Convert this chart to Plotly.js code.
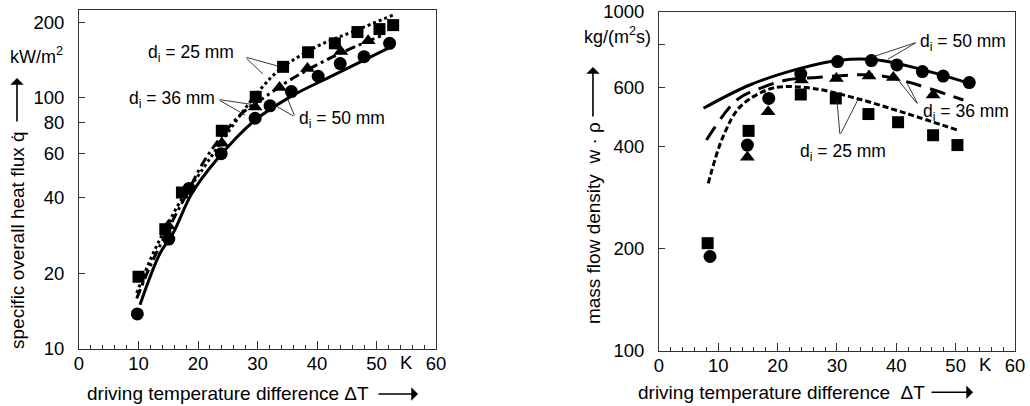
<!DOCTYPE html>
<html>
<head>
<meta charset="utf-8">
<script src="https://cdn.plot.ly/plotly-3.0.1.min.js"></script>
<style>html,body{margin:0;padding:0;background:#fff;}#chart{width:1030px;height:406px;}</style>
</head>
<body>
<div id="chart"></div>
<script>
// ---- Left panel: specific overall heat flux (kW/m2) vs driving temperature difference (K)
const qX25 = [10, 14.5, 17.3, 24, 29.7, 34.3, 38.5, 43, 46.8, 50.5, 52.8];
const qY25 = [19.4, 30, 42, 74, 101, 133, 152, 165, 183, 188, 195];
const qX36 = [15, 24, 29.6, 33.7, 38.4, 44, 48.6];
const qY36 = [31, 66, 92, 110, 131, 153, 169];
const qX50 = [9.8, 15.1, 18.5, 23.9, 29.6, 32.1, 35.7, 40.2, 43.9, 47.9, 52.2];
const qY50 = [13.8, 27.4, 43.6, 60, 83, 93, 106, 122, 137, 146, 165];

const qFitX25 = [9.7, 12.2, 14.7, 17.5, 20.3, 25.9, 30.4, 33.8, 39.9, 46.1, 52.8];
const qFitY25 = [16.7, 23.3, 30.7, 40.4, 50.1, 78, 107.7, 130, 160, 184, 214];
const qFitX36 = [9.7, 12, 15, 18, 21.5, 27.1, 31, 35.5, 42.7, 51.1];
const qFitY36 = [15.9, 21.5, 30, 41, 58.4, 85.6, 100, 118, 146, 178];
const qFitX50 = [10.25, 13.6, 15.8, 19, 23.1, 29.3, 35.5, 42.7, 52];
const qFitY50 = [15, 24, 28.9, 41.8, 56.6, 80.5, 101, 123, 158];

// ---- Right panel: mass flow density kg/(m2 s) vs driving temperature difference (K)
const mX25 = [8.2, 15.1, 23.9, 29.8, 35.3, 40.3, 46.2, 50.3];
const mY25 = [208, 446, 571, 556, 500, 473, 433, 405];
const mX36 = [14.9, 18.4, 24, 29.9, 35.4, 39.5, 46.2];
const mY36 = [373, 508, 630, 637, 647, 641, 569];
const mX50 = [8.6, 14.9, 18.5, 23.9, 30.1, 35.8, 40.1, 44.4, 47.9, 52.3];
const mY50 = [190, 405, 556, 656, 714, 719, 698, 667, 647, 619];

const mFitX25 = [8.3, 10.8, 13.7, 18.2, 20.9, 26, 33.3, 41.7, 50.2];
const mFitY25 = [312, 429, 526, 589, 602, 595, 556, 502, 449];
const mFitX36 = [8, 13.1, 17, 21.5, 26.6, 36.1, 41.7, 51.3];
const mFitY36 = [419, 550, 595, 630, 641, 652, 623, 550];
const mFitX50 = [7.5, 15.3, 23.8, 30.5, 37.2, 44.5, 51.9];
const mFitY50 = [520, 609, 682, 721, 721, 675, 619];

// tick labels
const qTicks = [10, 20, 40, 60, 80, 100, 200];
const mTicks = [100, 200, 400, 600, 800, 1000];
const mTickText = ['100', '200', '400', '600', '', '1000'];

const FONT = 'Liberation Sans, Arial, Helvetica, sans-serif';
const BLACK = '#000';

function markers(x, y, sym, xa, ya) {
  return {x, y, xaxis: xa, yaxis: ya, mode: 'markers', type: 'scatter',
    marker: {symbol: sym, size: sym === 'square' ? 12 : 13, color: BLACK, line: {width: 0}}};
}
function curve(x, y, dash, xa, ya, w) {
  return {x, y, xaxis: xa, yaxis: ya, mode: 'lines', type: 'scatter',
    line: {color: BLACK, width: w || 3, dash: dash, shape: 'spline', smoothing: 1}};
}

const traces = [
  curve(qFitX25, qFitY25, 'dot', 'x', 'y'),
  curve(qFitX36, qFitY36, '10px,4px,3px,4px', 'x', 'y'),
  curve(qFitX50, qFitY50, 'solid', 'x', 'y'),
  markers(qX25, qY25, 'square', 'x', 'y'),
  markers(qX36, qY36, 'triangle-up', 'x', 'y'),
  markers(qX50, qY50, 'circle', 'x', 'y'),
  curve(mFitX25, mFitY25, '6px,3px', 'x2', 'y2'),
  curve(mFitX36, mFitY36, '16px,9px', 'x2', 'y2'),
  curve(mFitX50, mFitY50, 'solid', 'x2', 'y2'),
  markers(mX25, mY25, 'square', 'x2', 'y2'),
  markers(mX36, mY36, 'triangle-up', 'x2', 'y2'),
  markers(mX50, mY50, 'circle', 'x2', 'y2')
];

const L = Math.log10;
const ann = [];
function label(xr, yr, x, y, text) {
  ann.push({xref: xr, yref: yr, x: x, y: L(y), text: text, showarrow: false,
    font: {family: FONT, size: 17.5, color: BLACK}, xanchor: 'center', yanchor: 'middle'});
}
function leader(xr, yr, x0, y0, x1, y1) {
  ann.push({xref: xr, yref: yr, axref: xr, ayref: yr, x: x1, y: L(y1), ax: x0, ay: L(y0),
    text: '', showarrow: true, arrowhead: 0, arrowwidth: 0.9, arrowcolor: '#222', standoff: 0, startstandoff: 0});
}
// left panel labels
label('x', 'y', 18.8, 151, 'd<sub>i</sub> = 25 mm');
leader('x', 'y', 27.9, 145.6, 33.4, 134);
leader('x', 'y', 27.9, 145.6, 30.9, 124.6);
label('x', 'y', 15.6, 98.2, 'd<sub>i</sub> = 36 mm');
leader('x', 'y', 23.4, 98.6, 29.6, 93.8);
leader('x', 'y', 23.4, 98.6, 27.9, 85.5);
label('x', 'y', 44.2, 81.7, 'd<sub>i</sub> = 50 mm');
leader('x', 'y', 36.3, 84, 32.8, 93.8);
leader('x', 'y', 36.3, 84, 35.1, 98.6);
// right panel labels
label('x2', 'y2', 51.2, 815, 'd<sub>i</sub> = 50 mm');
leader('x2', 'y2', 43.5, 815, 35.9, 736);
leader('x2', 'y2', 43.5, 815, 38.6, 726);
label('x2', 'y2', 51.7, 507, 'd<sub>i</sub> = 36 mm');
leader('x2', 'y2', 43.7, 532, 40.3, 630);
leader('x2', 'y2', 43.7, 532, 41.8, 617);
label('x2', 'y2', 31.0, 384, 'd<sub>i</sub> = 25 mm');
leader('x2', 'y2', 30.5, 433, 30.0, 550);
leader('x2', 'y2', 30.5, 433, 33.5, 550);

// axis titles, units and arrows (paper coords)
function ptext(x, y, text, opts) {
  ann.push(Object.assign({xref: 'paper', yref: 'paper', x: x, y: y, text: text, showarrow: false,
    font: {family: FONT, size: 19, color: BLACK}, xanchor: 'center', yanchor: 'middle'}, opts || {}));
}
function parrow(x, y, ax, ay) {
  ann.push({xref: 'paper', yref: 'paper', x: x, y: y, ax: ax, ay: ay, text: '', showarrow: true,
    arrowhead: 1, arrowsize: 1.4, arrowwidth: 1.6, arrowcolor: BLACK, standoff: 0, startstandoff: 0});
}
ptext(0.2209, -0.126, 'driving temperature difference ΔT');
parrow(0.4058, -0.126, -41, 0);
ptext(0.7583, -0.121, 'driving temperature difference  ΔT');
parrow(0.9447, -0.121, -43, 0);
ptext(0.0165, 0.3255, 'specific overall heat flux q̇', {textangle: -90});
parrow(0.0165, 0.8006, 0, 45);
ptext(0.5757, 0.375, 'mass flow density  w · ρ', {textangle: -90});
parrow(0.5757, 0.833, 0, 51);
ptext(0.0631, 0.868, 'kW/m<sup>2</sup>', {xanchor: 'right', font: {family: FONT, size: 18, color: BLACK}});
ptext(0.634, 0.926, 'kg/(m<sup>2</sup>s)', {xanchor: 'right', font: {family: FONT, size: 18, color: BLACK}});
// "K" unit in place of the 55 tick label
ann.push({xref: 'x', yref: 'paper', x: 55, y: 0.0059, yanchor: 'top', yshift: -1, text: 'K', showarrow: false,
  font: {family: FONT, size: 18.5, color: BLACK}});
ann.push({xref: 'x2', yref: 'paper', x: 55, y: 0, yanchor: 'top', yshift: -1, text: 'K', showarrow: false,
  font: {family: FONT, size: 18.5, color: BLACK}});

const tickFont = {family: FONT, size: 18.5, color: BLACK};
function xAxis(domain, anchor) {
  return {domain: domain, anchor: anchor, range: [0, 60], tickmode: 'linear', tick0: 0, dtick: 10,
    ticks: 'inside', ticklen: 8, tickwidth: 1, tickcolor: '#333',
    minor: {dtick: 2, ticks: 'inside', ticklen: 4, tickwidth: 1, tickcolor: '#333', showgrid: false},
    showline: true, linecolor: '#333', linewidth: 1, mirror: true,
    showgrid: false, zeroline: false, tickfont: tickFont, ticklabelstandoff: -2, fixedrange: true};
}
function yAxis(domain, anchor, range, vals, text) {
  return {domain: domain, anchor: anchor, type: 'log', range: range, tickmode: 'array', tickvals: vals,
    ticktext: text, ticks: 'inside', ticklen: 6, tickwidth: 1, tickcolor: '#333',
    showline: true, linecolor: '#333', linewidth: 1, mirror: true,
    showgrid: false, zeroline: false, tickfont: tickFont, ticklabelstandoff: 10, fixedrange: true};
}

const layout = {
  width: 1030, height: 406,
  margin: {l: 0, r: 0, t: 10, b: 55},
  paper_bgcolor: '#fff', plot_bgcolor: '#fff',
  showlegend: false,
  font: {family: FONT, color: BLACK},
  xaxis: xAxis([0.0767, 0.4233], 'y'),
  yaxis: yAxis([2 / 341, 1], 'x', [1, L(224)], qTicks, qTicks.map(String)),
  xaxis2: xAxis([0.6398, 0.9854], 'y2'),
  yaxis2: yAxis([0, 339 / 341], 'x2', [2, 3], mTicks, mTickText),
  annotations: ann
};

Plotly.newPlot('chart', traces, layout, {displayModeBar: false, staticPlot: true});
</script>
</body>
</html>
